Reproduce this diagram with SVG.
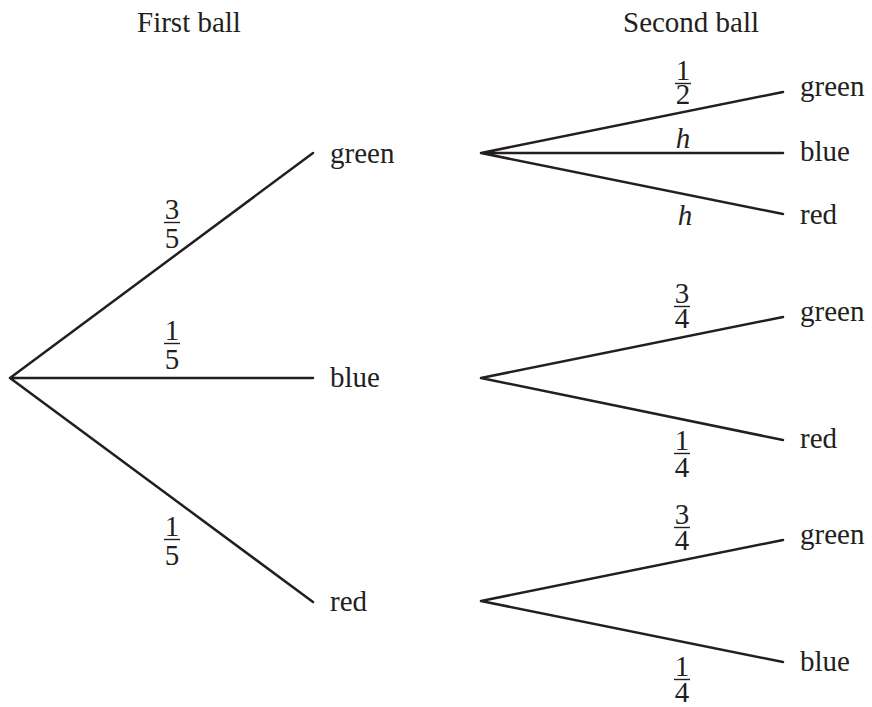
<svg xmlns="http://www.w3.org/2000/svg" width="872" height="707" viewBox="0 0 872 707">
<style>
text{font-size:29px;fill:#231f20}
.f{text-anchor:middle}
.i{font-style:italic}
.e{stroke:#231f20;stroke-width:2.5;fill:none;stroke-linecap:round}
.b{stroke:#231f20;stroke-width:1.4}
</style>
<rect width="872" height="707" fill="#fff"/>
<g font-family="'Liberation Serif', Tinos, 'Times New Roman', 'DejaVu Serif', serif">
<g id="headers">
<text x="137" y="32">First ball</text>
<text x="623" y="32">Second ball</text>
</g>
<g id="connectors">
<path class="e" d="M10 378L313 153M10 378H313M10 378L313 602"/>
<path class="e" d="M481 153L783 92M481 153H783M481 153L783 214"/>
<path class="e" d="M481 378L783 317M481 378L783 440"/>
<path class="e" d="M481 601L783 540M481 601L783 662"/>
<g id="edge-labels">
<text class="f" x="172" y="219">3</text><line class="b" x1="164" y1="222.5" x2="180" y2="222.5"/><text class="f" x="172" y="248">5</text>
<text class="f" x="172" y="340">1</text><line class="b" x1="164" y1="343.5" x2="180" y2="343.5"/><text class="f" x="172" y="369">5</text>
<text class="f" x="172" y="536">1</text><line class="b" x1="164" y1="539.5" x2="180" y2="539.5"/><text class="f" x="172" y="565">5</text>
<text class="f" x="683" y="80">1</text><line class="b" x1="675" y1="83.5" x2="691" y2="83.5"/><text class="f" x="683" y="104">2</text>
<text class="f i" x="683" y="148">h</text>
<text class="f i" x="685" y="225">h</text>
<text class="f" x="682" y="303">3</text><line class="b" x1="674" y1="306.5" x2="690" y2="306.5"/><text class="f" x="682" y="328">4</text>
<text class="f" x="682" y="450">1</text><line class="b" x1="674" y1="453.5" x2="690" y2="453.5"/><text class="f" x="682" y="477">4</text>
<text class="f" x="682" y="524">3</text><line class="b" x1="674" y1="527.5" x2="690" y2="527.5"/><text class="f" x="682" y="550">4</text>
<text class="f" x="682" y="676">1</text><line class="b" x1="674" y1="679.5" x2="690" y2="679.5"/><text class="f" x="682" y="702">4</text>
</g>
</g>
<g id="n-green1"><text x="330" y="163">green</text></g>
<g id="n-blue1"><text x="330" y="387">blue</text></g>
<g id="n-red1"><text x="330" y="611">red</text></g>
<g id="n-gg"><text x="800" y="96">green</text></g>
<g id="n-gb"><text x="800" y="161">blue</text></g>
<g id="n-gr"><text x="800" y="224">red</text></g>
<g id="n-bg"><text x="800" y="321">green</text></g>
<g id="n-br"><text x="800" y="448">red</text></g>
<g id="n-rg"><text x="800" y="544">green</text></g>
<g id="n-rb"><text x="800" y="671">blue</text></g>
</g>
</svg>
